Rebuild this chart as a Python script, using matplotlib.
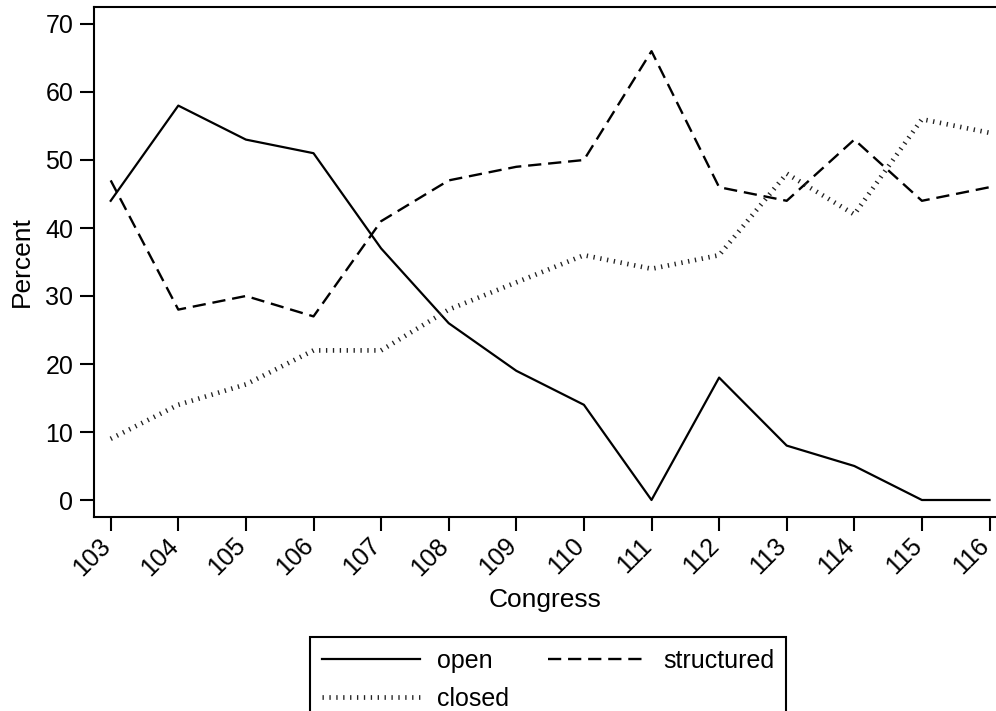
import matplotlib
matplotlib.use("Agg")
import matplotlib.pyplot as plt
import matplotlib.transforms as mtransforms

plt.rcParams['font.family'] = ['Liberation Sans', 'DejaVu Sans']

# data
congress = [103, 104, 105, 106, 107, 108, 109, 110, 111, 112, 113, 114, 115, 116]
open_rule = [44, 58, 53, 51, 37, 26, 19, 14, 0, 18, 8, 5, 0, 0]
structured = [47, 28, 30, 27, 41, 47, 49, 50, 66, 46, 44, 53, 44, 46]
closed = [9, 14, 17, 22, 22, 28, 32, 36, 34, 36, 48, 42, 56, 54]

fig = plt.figure(figsize=(9.96, 7.11), dpi=100)
ax = fig.add_axes([94 / 996, 1 - 517 / 711, 902 / 996, 510 / 711])

l_open, = ax.plot(congress, open_rule, color='black', lw=1.6, label='open')
l_struct, = ax.plot(congress, structured, color='black', lw=1.7,
                    dashes=(5.6, 2.9), label='structured')
l_closed, = ax.plot(congress, closed, color='#222222', lw=3.4,
                    dashes=(0.28, 1.18), dash_capstyle='butt', label='closed')

ax.set_xlim(102.753, 116.096)
ax.set_ylim(-2.5, 72.5)
ax.set_xticks(congress)
ax.set_xticklabels([str(c) for c in congress], rotation=45, ha='right',
                   va='center', rotation_mode='anchor')
ax.set_yticks(range(0, 71, 10))

ax.tick_params(axis='both', direction='out', length=10, width=1.5,
               labelsize=18, color='black')
ax.tick_params(axis='x', pad=8)
ax.tick_params(axis='y', pad=5)

# nudge rotated tick labels a little left so the last one stays inside
shift = mtransforms.ScaledTranslation(-4 / 100, 0, fig.dpi_scale_trans)
for lab in ax.get_xticklabels():
    lab.set_transform(lab.get_transform() + shift)

for side in ['left', 'bottom', 'top']:
    ax.spines[side].set_linewidth(1.5)
ax.spines['right'].set_visible(False)

ax.set_xlabel('Congress', fontsize=19, labelpad=6)
ax.set_ylabel('Percent', fontsize=19, labelpad=8)

# order so rows read: open, structured / closed
leg = fig.legend([l_open, l_closed, l_struct], ['open', 'closed', 'structured'],
                 loc='upper center', bbox_to_anchor=(548 / 996, 1 - 624 / 711),
                 ncol=2, fontsize=18, handlelength=3.9, handletextpad=0.7,
                 columnspacing=1.55, labelspacing=0.55, borderpad=0.5,
                 fancybox=False, framealpha=1, edgecolor='black')
leg.get_frame().set_linewidth(1.5)

fig.savefig('out.png', dpi=100)
